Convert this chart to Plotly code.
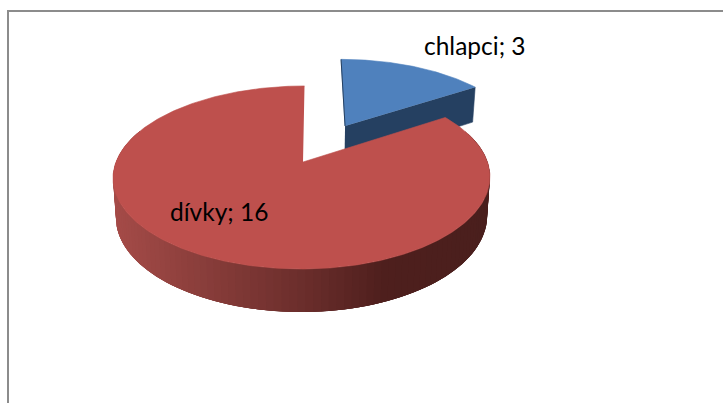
import numpy as np
import plotly.graph_objects as go

categories = ["chlapci", "dívky"]
values = [3, 16]
top_colors = ["#4F81BD", "#BE504D"]
wall_blue = "#254061"

# projection of a tilted disc, in screen pixels
CX, CY = 303.0, 162.0
A_RIGHT, A_LEFT, B, K = 184.5, 187.0, 88.9, 0.169
SHEAR = 1.5
BLUE_NUDGE = 1.0
DEPTH, KD, SHRINK = 38.5, 0.104, 0.985
EXPLODE = 0.494

total = sum(values)
sweep = [v / total * 2 * np.pi for v in values]


def project(px, py, bottom=False, nudge=0.0):
    px, py = np.asarray(px, float), np.asarray(py, float)
    d = 1 + K * py
    x = np.where(px >= 0, A_RIGHT, A_LEFT) * px / d
    y = -B * py / d
    if bottom:
        x = x * SHRINK
        y = y + DEPTH / (1 + KD * py)
    return CX + x + SHEAR * py + nudge, CY + y


def arc(t0, t1, n=160):
    return np.linspace(t0, t1, n)


fig = go.Figure()


def poly(x, y, color, line=0.6):
    fig.add_trace(go.Scatter(x=list(x), y=list(y), mode="lines", fill="toself",
                             fillcolor=color, line=dict(color=color, width=line),
                             hoverinfo="skip", showlegend=False))


# blue exploded slice
t_blue = arc(0, sweep[0])
mid = sweep[0] / 2
ox, oy = EXPLODE * np.sin(mid), EXPLODE * np.cos(mid)
bx = np.concatenate([[ox], ox + np.sin(t_blue)])
by = np.concatenate([[oy], oy + np.cos(t_blue)])
# front cut wall of the blue slice
ex, ey = [ox, ox + np.sin(sweep[0])], [oy, oy + np.cos(sweep[0])]
wx0, wy0 = project(ex, ey, nudge=BLUE_NUDGE)
wx1, wy1 = project(ex, ey, bottom=True, nudge=BLUE_NUDGE)
poly([wx0[0], wx0[1], wx1[1], wx1[0]], [wy0[0], wy0[1], wy1[1], wy1[0]], wall_blue)
sx, sy = project(bx, by, nudge=BLUE_NUDGE)
poly(sx, sy, top_colors[0])
lx, ly = project([ox, ox], [oy, oy + 1], nudge=BLUE_NUDGE)
fig.add_trace(go.Scatter(x=lx, y=ly, mode="lines", line=dict(color=wall_blue, width=1),
                         hoverinfo="skip", showlegend=False))

# red slice: graded outer wall painted as overlapping bands, then top face
stop_x = [113, 200, 300, 385, 490]
stop_rgb = np.array([[0xA5, 0x4B, 0x48], [0x8A, 0x3E, 0x3B], [0x6C, 0x2E, 0x2C],
                     [0x4E, 0x1F, 0x1D], [0x4A, 0x1F, 0x1D]], float)
t_wall = np.linspace(np.pi * 0.38, np.pi * 1.62, 110)
for i in range(len(t_wall) - 1):
    seg = t_wall[i:min(i + 5, len(t_wall))]
    p, q = np.sin(seg), np.cos(seg)
    x0, y0 = project(p, q)
    x1, y1 = project(p, q, bottom=True)
    xm = (x0[0] + x0[1]) / 2
    rgb = [int(round(np.interp(xm, stop_x, stop_rgb[:, c]))) for c in range(3)]
    poly(np.concatenate([x0, x1[::-1]]), np.concatenate([y0, y1[::-1]]),
         f"rgb({rgb[0]},{rgb[1]},{rgb[2]})", line=0)

t_red = arc(sweep[0], 2 * np.pi, 400)
rx = np.concatenate([[0], np.sin(t_red)])
ry = np.concatenate([[0], np.cos(t_red)])
sx, sy = project(rx, ry)
poly(sx, sy, top_colors[1])

labels = [f"{c}; {v}" for c, v in zip(categories, values)]
for text, (x, y) in zip(labels, [(474.5, 45), (219, 211)]):
    fig.add_annotation(x=x, y=y, text=text, showarrow=False, xref="x", yref="y",
                       font=dict(family="Lato", size=24.5, color="#000000"))

fig.add_shape(type="line", x0=7, x1=723, y0=11, y1=11, line=dict(color="#8C8C8C", width=2))
fig.add_shape(type="line", x0=8, x1=8, y0=10, y1=403, line=dict(color="#8C8C8C", width=2))

fig.update_layout(width=723, height=403, margin=dict(l=0, r=0, t=0, b=0),
                  paper_bgcolor="white", plot_bgcolor="white", showlegend=False,
                  xaxis=dict(range=[0, 723], visible=False, fixedrange=True),
                  yaxis=dict(range=[403, 0], visible=False, fixedrange=True))
fig.write_html("out.html", config={"displayModeBar": False},
               post_script="document.body.style.margin='0';document.documentElement.style.overflow='hidden';")
